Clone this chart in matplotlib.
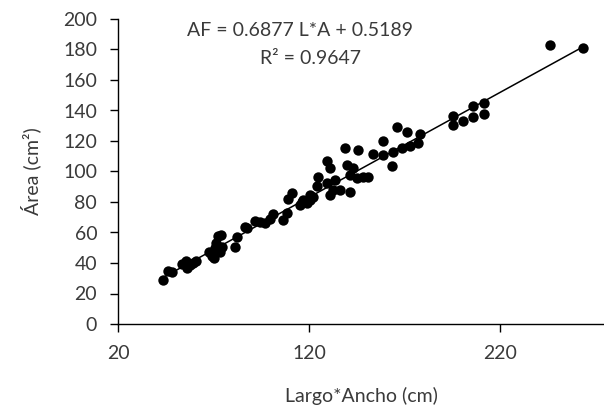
import matplotlib
matplotlib.use("Agg")
import matplotlib.pyplot as plt
import numpy as np

plt.rcParams['font.family'] = ['Lato', 'DejaVu Sans']

largo_ancho = [43.6, 46.2, 48.3, 53.5, 55.6, 56.1, 57.7, 59.3, 60.8, 67.6,
               69.2, 70.3, 70.8, 71.3, 72.4, 73.9, 74.5, 73.4, 81.3, 82.3,
               86.5, 87.5, 91.7, 94.3, 97.0, 99.6, 101.2, 106.4, 108.5, 109.0,
               111.1, 115.3, 116.3, 119.0, 120.5, 122.1, 120.5, 116.9, 124.2, 124.7,
               129.4, 131.0, 132.6, 129.4, 131.0, 133.6, 136.2, 139.9, 138.8, 141.5,
               141.5, 143.0, 145.1, 145.7, 148.3, 150.9, 153.5, 158.7, 158.7, 163.5,
               164.0, 166.1, 168.7, 171.3, 172.9, 177.1, 178.1, 195.4, 195.4, 200.6,
               205.9, 205.9, 211.6, 211.6, 246.2, 263.5]
area = [28.9, 34.8, 34.1, 39.3, 41.3, 36.7, 38.7, 40.0, 41.3, 47.2,
        44.6, 43.3, 49.8, 53.1, 57.7, 58.4, 50.5, 47.2, 50.5, 57.0,
        63.6, 63.0, 67.5, 66.9, 66.2, 68.9, 72.1, 68.2, 72.8, 82.0,
        85.9, 78.0, 80.0, 79.3, 81.3, 83.3, 84.6, 81.3, 90.5, 96.4,
        92.5, 84.6, 87.9, 106.9, 102.3, 94.4, 87.9, 104.3, 115.4, 86.6,
        97.7, 102.3, 95.7, 114.1, 96.4, 96.4, 111.5, 120.0, 110.8, 103.6,
        112.8, 129.2, 115.4, 125.9, 116.7, 118.7, 124.6, 136.4, 130.5, 133.1,
        143.0, 135.7, 144.9, 137.7, 183.0, 181.0]

slope = 0.6877
intercept = 0.5189
r2 = 0.9647

x_ticks = [20, 120, 220]
y_ticks = [0, 20, 40, 60, 80, 100, 120, 140, 160, 180, 200]

fs = 14
tc = '#3a3a3a'

fig = plt.figure(figsize=(6.04, 4.11), dpi=100)
ax = fig.add_axes([118/604, 87/411, (604-118)/604, 305/411])

x = np.array(largo_ancho)
y = np.array(area)
ax.scatter(x, y, s=56, color='black', zorder=3, linewidths=0)
xl = np.array([x.min(), x.max()])
ax.plot(xl, slope*xl + intercept, color='black', lw=1.1, zorder=2)

ax.set_xlim(20, 274.5)
ax.set_ylim(0, 200)
ax.set_xticks(x_ticks)
ax.set_yticks(y_ticks)
for s in ['top', 'right']:
    ax.spines[s].set_visible(False)
for s in ['left', 'bottom']:
    ax.spines[s].set_linewidth(1.0)
ax.tick_params(axis='both', direction='out', length=6, width=1.0, labelsize=fs,
               colors='black', labelcolor=tc)
ax.tick_params(axis='x', pad=9)
ax.tick_params(axis='y', pad=9)

ax.set_xlabel('Largo*Ancho (cm)', fontsize=fs, color=tc, labelpad=18)
ax.set_ylabel('Área (cm²)', fontsize=fs, color=tc, labelpad=16)

fig.text(300/604, 1 - 30/411, 'AF = 0.6877 L*A + 0.5189', ha='center', va='center',
         fontsize=fs, color=tc)
fig.text(310/604, 1 - 58/411, 'R² = 0.9647', ha='center', va='center',
         fontsize=fs, color=tc)

fig.savefig('out.png', dpi=100)
